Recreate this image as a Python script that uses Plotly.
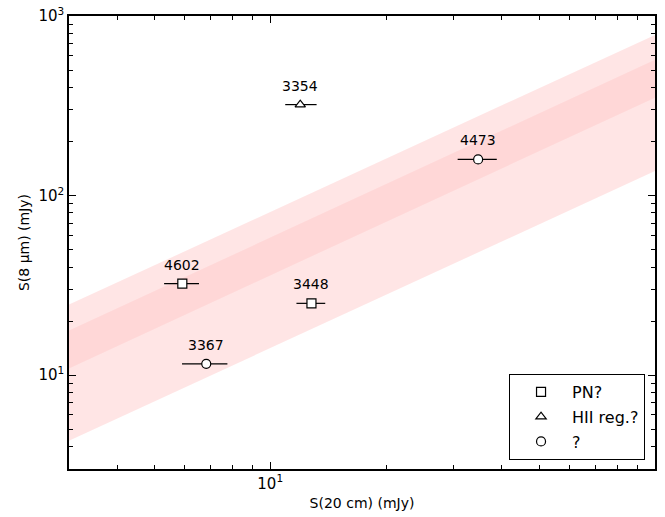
import math
import plotly.graph_objects as go

# ---- data ----
band_x = [3, 100]
outer_top = [24.7, 785]
outer_bottom = [4.31, 137]
inner_top = [17.7, 570]
inner_bottom = [10.9, 351]

pn_names = ["4602", "3448"]
pn_x = [5.91, 12.8]
pn_y = [32.3, 25.1]
pn_xlo = [5.30, 11.7]
pn_xhi = [6.53, 13.9]

hii_names = ["3354"]
hii_x = [11.97]
hii_y = [321]
hii_xlo = [10.94]
hii_xhi = [13.2]

unk_names = ["4473", "3367"]
unk_x = [34.7, 6.82]
unk_y = [159, 11.55]
unk_xlo = [30.7, 5.90]
unk_xhi = [38.8, 7.74]

# tick label text for each decade
tick_alias = {"1": "", "10": "10<sup>1</sup>", "100": "10<sup>2</sup>",
              "1000": "10<sup>3</sup>"}

FONT = "DejaVu Sans"

fig = go.Figure()


def band(top, bottom, color):
    xs = band_x + band_x[::-1]
    ys = top + bottom[::-1]
    fig.add_trace(go.Scatter(x=xs, y=ys, fill="toself", fillcolor=color,
                             line=dict(width=0), mode="lines",
                             showlegend=False, hoverinfo="skip"))


band(outer_top, outer_bottom, "rgba(255,0,0,0.10)")
band(inner_top, inner_bottom, "rgba(255,0,0,0.06)")


def series(name, xs, ys, xlo, xhi, symbol, size):
    fig.add_trace(go.Scatter(
        x=xs, y=ys, mode="markers", name=name, legendgroup=name,
        marker=dict(symbol=symbol, size=size, color="white",
                    line=dict(color="black", width=1.2)),
        error_x=dict(type="data", symmetric=False,
                     array=[h - x for h, x in zip(xhi, xs)],
                     arrayminus=[x - l for l, x in zip(xlo, xs)],
                     color="black", thickness=1.2, width=0),
    ))


series("PN?", pn_x, pn_y, pn_xlo, pn_xhi, "square", 9)
series("HII reg.?", hii_x, hii_y, hii_xlo, hii_xhi, "triangle-up", 9)
series("?", unk_x, unk_y, unk_xlo, unk_xhi, "circle", 9)

for names, xs, ys in [(pn_names, pn_x, pn_y), (hii_names, hii_x, hii_y),
                      (unk_names, unk_x, unk_y)]:
    for n, x, y in zip(names, xs, ys):
        fig.add_annotation(x=math.log10(x), y=math.log10(y), xref="x", yref="y",
                           text=n, showarrow=False, yshift=19,
                           font=dict(family=FONT, size=14, color="black"))

axis_common = dict(
    type="log", showgrid=False, zeroline=False, automargin=False,
    showline=True, linecolor="black", linewidth=1.5, mirror="allticks",
    tickmode="linear", tick0=0, dtick=1, labelalias=tick_alias,
    ticks="inside", ticklen=7, tickwidth=1.3, tickcolor="black",
    tickfont=dict(family=FONT, size=15, color="black"),
    minor=dict(ticks="inside", ticklen=4, tickwidth=1, tickcolor="black",
               dtick="D1", showgrid=False),
)

fig.update_layout(
    width=665, height=517,
    margin=dict(l=69, r=10, t=16, b=48),
    paper_bgcolor="white", plot_bgcolor="white",
    font=dict(family=FONT, color="black"),
    xaxis=dict(range=[0.4771, 2],
               title=dict(text="S(20 cm) (mJy)",
                          font=dict(family=FONT, size=14, color="black"),
                          standoff=6),
               **axis_common),
    yaxis=dict(range=[0.4771, 3],
               title=dict(text="S(8 μm) (mJy)",
                          font=dict(family=FONT, size=14, color="black"),
                          standoff=6),
               **axis_common),
    legend=dict(x=0.983, y=0.02, xanchor="right", yanchor="bottom",
                bordercolor="black", borderwidth=1, bgcolor="white",
                font=dict(family=FONT, size=16, color="black"), itemwidth=52,
                tracegroupgap=1),
    showlegend=True,
)

fig.write_html("out.html", config={"displayModeBar": False},
               post_script="document.body.style.margin='0';document.body.style.overflow='hidden';")
